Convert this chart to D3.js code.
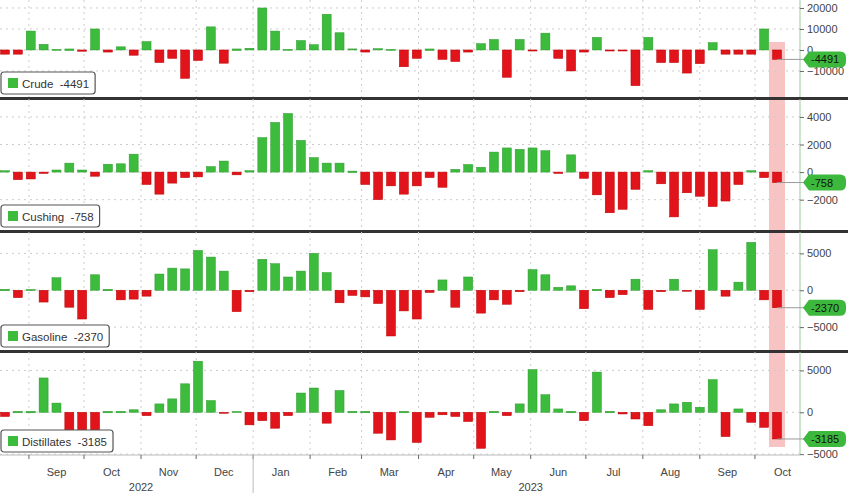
<!DOCTYPE html>
<html><head><meta charset="utf-8">
<script src="https://cdn.jsdelivr.net/npm/d3@7"></script>
<style>body{margin:0;background:#fff}svg{display:block}</style></head>
<body><svg id="c" width="848" height="493"></svg>
<script>
const crude=[-2000,-2000,9000,2700,300,0,-600,10000,-1000,1500,-2500,4000,-6000,-4000,-13500,-5000,11000,-6300,0,800,20000,9000,300,4500,2500,17000,8200,500,-1000,600,300,-8000,-4000,0,-4500,-5500,-1000,3000,5000,-13000,5000,-500,8000,-4000,-10000,-1000,6000,-500,-500,-17000,6000,-6000,-6000,-11000,-6500,3500,-2000,-2000,-2000,10000,-4491];
const cushing=[100,-550,-500,-100,150,650,150,-300,570,600,1300,-900,-1600,-800,-400,-350,400,800,-200,100,2500,3600,4250,2300,1050,650,650,0,-900,-2000,-1000,-1600,-1000,-400,-1100,200,550,350,1450,1750,1650,1750,1550,-100,1250,-450,-1650,-2950,-2700,-1250,100,-850,-3250,-1500,-1750,-2500,-2100,-900,100,-400,-758];
const gasoline=[0,-1000,100,-1600,1700,-2300,-3900,2100,0,-1300,-1200,-800,2200,3000,2900,5400,4500,2600,-2900,-200,4200,3600,1800,2600,5000,2400,-1700,-700,-900,-1800,-6200,-2800,-3900,-300,1400,-2300,1800,-3100,-1300,-1900,-200,2800,2100,400,600,-2500,0,-1000,-600,1500,-2600,-200,1500,-100,-2600,5500,-800,1100,6500,-1300,-2370];
const distillates=[-500,0,0,4100,1100,-2300,-2300,-2300,0,0,300,-400,1000,1600,3400,6100,1400,-100,100,-1500,-1000,-1900,-400,2300,2900,-1300,2600,0,0,-2500,-3300,0,-3600,-600,-300,-500,-1100,-4300,0,-400,1000,5100,2100,400,0,-1000,4800,0,-200,-800,-1600,300,1000,1200,600,3900,-2900,400,-1200,-1800,-3185];
const names=["Crude","Cushing","Gasoline","Distillates"];
const series=[crude,cushing,gasoline,distillates];
const lastLabels=["-4491","-758","-2370","-3185"];
const ticks=[[20000,10000,0,-10000],[4000,2000,0,-2000],[5000,0,-5000],[5000,0,-5000]];
const domains=[[-22400,23800],[-4200,5300],[-8100,7900],[-5100,7200]];
const panels=[[0,97],[99,230],[232,350],[352,455]];

const svg=d3.select("#c");
const t0=new Date(2022,7,19);
const dates=crude.map((d,i)=>d3.timeDay.offset(t0,i*7));
const x=d3.scaleTime().domain([dates[0],dates[dates.length-1]]).range([5,777]);
const axisX=800, bw=9;
const green="#3dbb3d", red="#e0141a";

svg.append("rect").attr("x",x(dates[60])-8).attr("width",16).attr("y",42).attr("height",405).attr("fill","#f4a9a9").attr("opacity",0.7);

const months=d3.timeMonth.range(new Date(2022,8,1),new Date(2023,10,1));
series.forEach((s,k)=>{
  const [top,bot]=panels[k];
  const y=d3.scaleLinear().domain(domains[k]).range([bot,top]);
  const g=svg.append("g");
  g.selectAll(".vg").data(months).join("line").attr("x1",d=>x(d)).attr("x2",d=>x(d)).attr("y1",top).attr("y2",bot)
    .attr("stroke","#ccc").attr("stroke-dasharray","2,4");
  g.selectAll(".hg").data(ticks[k]).join("line").attr("x1",0).attr("x2",axisX).attr("y1",d=>y(d)).attr("y2",d=>y(d))
    .attr("stroke","#ccc").attr("stroke-dasharray","2,4");
  g.selectAll(".b").data(s).join("rect")
    .attr("x",(d,i)=>x(dates[i])-bw/2).attr("width",bw)
    .attr("y",d=>Math.min(y(d),y(0))-(d===0?1:0)).attr("height",d=>Math.max(Math.abs(y(d)-y(0)),d===0?1.5:1))
    .attr("fill",d=>d>=0?green:red).attr("stroke",d=>d>=0?"#2a9a2a":"#b00").attr("stroke-width",0.5);
  const ax=d3.axisRight(y).tickValues(ticks[k]).tickSize(4).tickFormat(d3.format("d"));
  const a=g.append("g").attr("transform",`translate(${axisX},0)`).call(ax);
  a.select(".domain").attr("stroke","#9c9").attr("d",`M0,${top}V${bot}`);
  a.selectAll("text").attr("font-family","Liberation Sans, Arial").attr("font-size",11).attr("fill","#444");
  a.selectAll("line").attr("stroke","#666");
  const yl=y(s[s.length-1]);
  g.append("line").attr("x1",x(dates[60])).attr("x2",axisX+4).attr("y1",yl).attr("y2",yl).attr("stroke","#999");
  g.append("path").attr("d",`M${axisX+3},${yl}L${axisX+9},${yl-8}H840Q846,${yl-8} 846,${yl-2}V${yl+2}Q846,${yl+8} 840,${yl+8}H${axisX+9}Z`).attr("fill","#3cb93c");
  g.append("text").attr("x",axisX+11).attr("y",yl+4).text(lastLabels[k]).attr("font-family","Liberation Sans, Arial").attr("font-size",11).attr("fill","#111");
  const lt=names[k]+"  "+lastLabels[k];
  const ly=bot-25;
  const r=g.append("rect").attr("x",1).attr("y",ly).attr("height",22).attr("rx",3).attr("fill","#fff").attr("stroke","#555").attr("stroke-width",1.2);
  g.append("rect").attr("x",8).attr("y",ly+6).attr("width",10).attr("height",10).attr("fill",green);
  const tx=g.append("text").attr("x",22).attr("y",ly+15.5).text(lt).attr("font-family","Liberation Sans, Arial").attr("font-size",11.5).attr("fill","#333").attr("xml:space","preserve");
  r.attr("width",tx.node().getComputedTextLength()+27);
  if(k<3) svg.append("rect").attr("x",0).attr("y",bot).attr("width",848).attr("height",3).attr("fill","#333");
});
const base=455;
svg.append("line").attr("x1",0).attr("x2",axisX).attr("y1",base).attr("y2",base).attr("stroke","#bbb");
svg.selectAll(".mt").data(months).join("line").attr("x1",d=>x(d)).attr("x2",d=>x(d)).attr("y1",base).attr("y2",base+4).attr("stroke","#666");
svg.selectAll(".ml").data(months.slice(0,14)).join("text")
  .attr("x",d=>x(d3.timeDay.offset(d,15))).attr("y",476).attr("text-anchor","middle").text(d3.timeFormat("%b"))
  .attr("font-family","Liberation Sans, Arial").attr("font-size",11).attr("fill","#444");
const years=[["2022",new Date(2022,10,1)],["2023",new Date(2023,5,1)]];
svg.selectAll(".yl").data(years).join("text").attr("x",d=>x(d[1])).attr("y",491).attr("text-anchor","middle").text(d=>d[0])
  .attr("font-family","Liberation Sans, Arial").attr("font-size",11).attr("fill","#444");
svg.append("line").attr("x1",x(new Date(2023,0,1))).attr("x2",x(new Date(2023,0,1))).attr("y1",base).attr("y2",493).attr("stroke","#bbb");
</script></body></html>
